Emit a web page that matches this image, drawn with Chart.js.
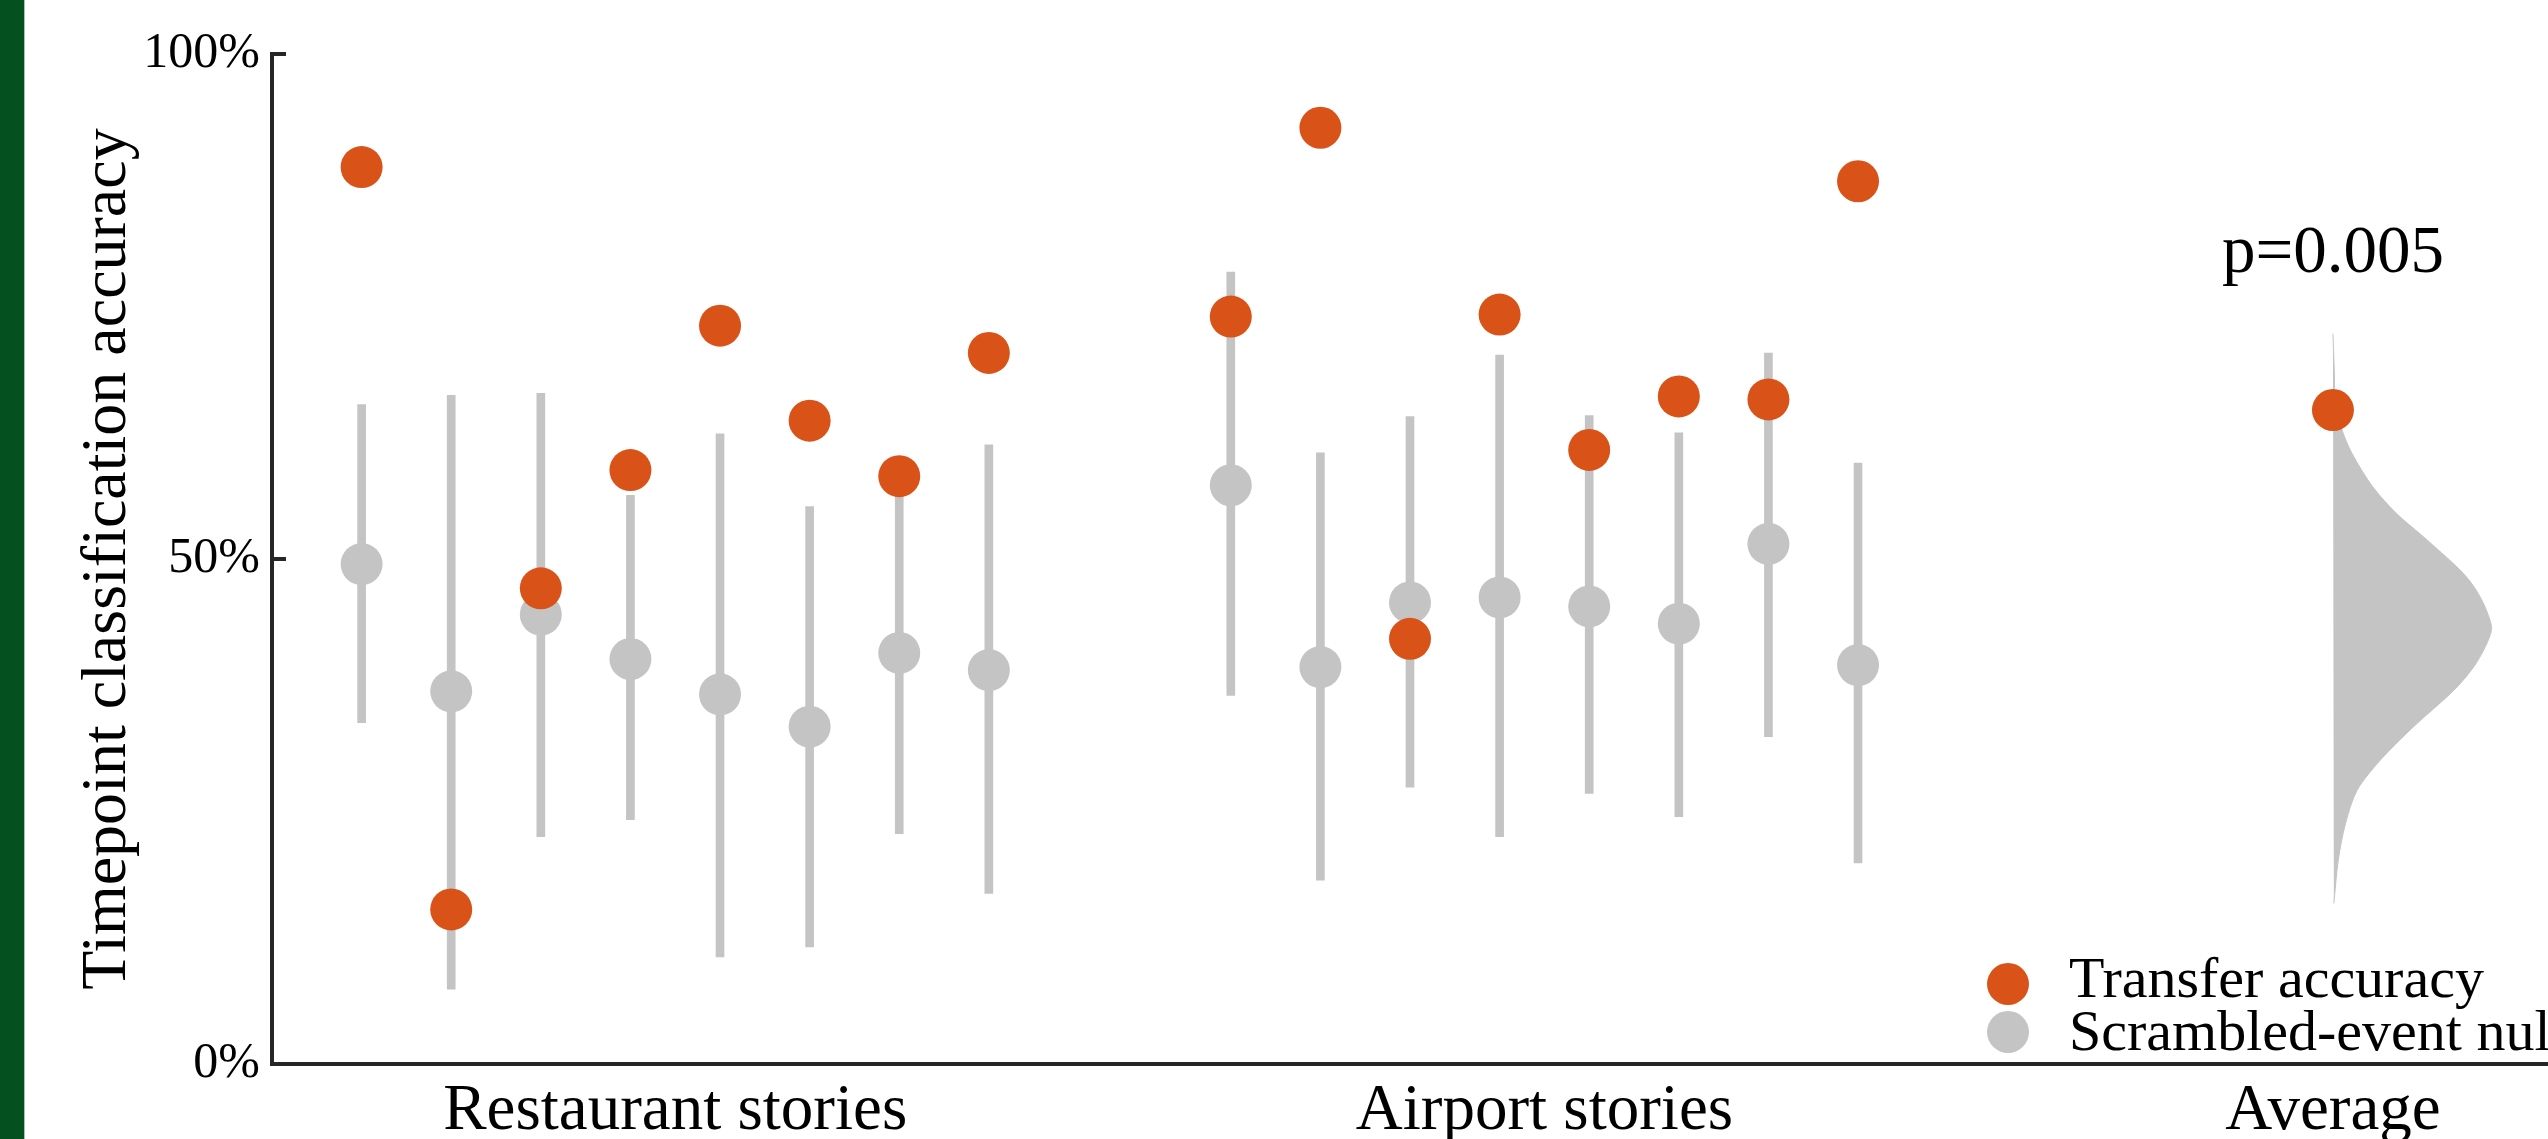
<!DOCTYPE html>
<html>
<head>
<meta charset="utf-8">
<title>Timepoint classification accuracy</title>
<script src="https://cdn.jsdelivr.net/npm/chart.js@4.4.1/dist/chart.umd.min.js"></script>
<style>
  html, body { margin: 0; padding: 0; background: #fff; overflow: hidden; }
  #wrap { position: relative; width: 2548px; height: 1139px; }
  #band { position: absolute; left: 0; top: 0; width: 24px; height: 1139px; background: #04501e; border-right: 1px solid #a9c2b1; }
  canvas { position: absolute; left: 0; top: 0; }
</style>
</head>
<body>
<div id="wrap">
  <canvas id="chart" width="2548" height="1139"></canvas>
  <div id="band"></div>
</div>
<script>
// x positions of the stories on the axis
const restaurantX = [1, 2, 3, 4, 5, 6, 7, 8];
const airportX = [10.7, 11.7, 12.7, 13.7, 14.7, 15.7, 16.7, 17.7];
const averageX = 23;

// accuracy values (%)
const restaurantTransfer = [88.8, 15.3, 47.1, 58.8, 73.1, 63.7, 58.2, 70.4];
const restaurantNullMean = [49.5, 36.9, 44.5, 40.1, 36.6, 33.4, 40.7, 39.0];
const restaurantNullLow  = [33.8, 7.4, 22.5, 24.2, 10.6, 11.6, 22.8, 16.9];
const restaurantNullHigh = [65.3, 66.2, 66.4, 56.3, 62.4, 55.2, 58.5, 61.3];

const airportTransfer = [74.0, 92.7, 42.1, 74.2, 60.8, 66.1, 65.8, 87.4];
const airportNullMean = [57.3, 39.3, 45.7, 46.2, 45.3, 43.6, 51.5, 39.5];
const airportNullLow  = [36.5, 18.2, 27.4, 22.5, 26.8, 24.5, 32.4, 19.9];
const airportNullHigh = [78.4, 60.5, 64.1, 70.2, 64.2, 62.5, 70.4, 59.5];

const averageTransfer = 64.75;

// half-violin of the averaged null distribution (level %, density in x units)
const nullDistLevels  = [72.3, 70.4, 68.7, 65.0, 62.8, 60.5, 57.2, 54.5, 52.2, 48.9, 47.3, 45.6, 44.0, 43.0, 41.3, 39.3, 37.0, 33.4, 30.1, 27.1, 23.8, 20.2, 15.9];
const nullDistDensity = [0, 0.008, 0.015, 0.03, 0.10, 0.21, 0.44, 0.71, 1.01, 1.42, 1.57, 1.68, 1.75, 1.77, 1.70, 1.57, 1.35, 0.90, 0.53, 0.27, 0.14, 0.06, 0.01];

const xTickPositions = [4.5, 14.2, 23];
const xTickLabels = ["Restaurant stories", "Airport stories", "Average"];
const yTickValues = [0, 50, 100];
const pValueText = "p=0.005";
const pValueLevel = 78.4;

const ORANGE = "#d95319";
const GREY = "#c4c4c4";
const AXIS = "#262626";
const FONT = "'Liberation Serif', 'DejaVu Serif', serif";

const allX = restaurantX.concat(airportX);
const allTransfer = restaurantTransfer.concat(airportTransfer);
const allMean = restaurantNullMean.concat(airportNullMean);
const allLow = restaurantNullLow.concat(airportNullLow);
const allHigh = restaurantNullHigh.concat(airportNullHigh);

const transferPoints = allX.map((x, i) => ({ x, y: allTransfer[i] }));
transferPoints.push({ x: averageX, y: averageTransfer });
const nullPoints = allX.map((x, i) => ({ x, y: allMean[i] }));
const nullRanges = allX.map((x, i) => ({ x, y: [allLow[i], allHigh[i]] }));
const violinPoints = nullDistLevels.map((lvl, i) => ({ x: averageX + nullDistDensity[i], y: lvl }));

// draws the inward y ticks, the p-value and the legend
const annotations = {
  id: "annotations",
  afterDraw(chart) {
    const { ctx, chartArea, scales } = chart;
    const x = scales.x, y = scales.y;
    ctx.save();

    ctx.strokeStyle = AXIS;
    ctx.lineWidth = 4;
    yTickValues.forEach(v => {
      const py = y.getPixelForValue(v);
      ctx.beginPath();
      ctx.moveTo(chartArea.left, py);
      ctx.lineTo(chartArea.left + 14, py);
      ctx.stroke();
    });

    ctx.fillStyle = "#000";
    ctx.font = "67px " + FONT;
    ctx.textAlign = "center";
    ctx.textBaseline = "alphabetic";
    ctx.fillText(pValueText, x.getPixelForValue(averageX), y.getPixelForValue(pValueLevel));

    const items = [chart.data.datasets[0], chart.data.datasets[1]];
    const markerX = chartArea.right - 540;
    const markerY = [chartArea.bottom - 80, chartArea.bottom - 32];
    const textY = [chartArea.bottom - 67, chartArea.bottom - 14];
    ctx.font = "58px " + FONT;
    ctx.textAlign = "left";
    items.forEach((ds, i) => {
      ctx.fillStyle = ds.backgroundColor;
      ctx.beginPath();
      ctx.arc(markerX, markerY[i], 21, 0, Math.PI * 2);
      ctx.fill();
      ctx.fillStyle = "#000";
      ctx.fillText(ds.label, markerX + 61, textY[i]);
    });
    ctx.restore();
  }
};

new Chart(document.getElementById("chart"), {
  type: "scatter",
  data: {
    datasets: [
      {
        label: "Transfer accuracy",
        type: "scatter",
        data: transferPoints,
        backgroundColor: ORANGE,
        borderWidth: 0,
        pointRadius: 21,
        order: 0
      },
      {
        label: "Scrambled-event null",
        type: "scatter",
        data: nullPoints,
        backgroundColor: GREY,
        borderWidth: 0,
        pointRadius: 21,
        order: 1
      },
      {
        label: "Null range",
        type: "bar",
        data: nullRanges,
        backgroundColor: GREY,
        barThickness: 8,
        borderWidth: 0,
        order: 2
      },
      {
        label: "Null distribution",
        type: "scatter",
        data: violinPoints,
        showLine: true,
        fill: "shape",
        tension: 0.3,
        backgroundColor: GREY,
        borderColor: GREY,
        borderWidth: 1,
        pointRadius: 0,
        order: 3
      }
    ]
  },
  options: {
    responsive: false,
    devicePixelRatio: 1,
    animation: false,
    layout: { autoPadding: false, padding: { top: 54, right: 0, bottom: 0, left: 0 } },
    plugins: {
      legend: { display: false },
      tooltip: { enabled: false }
    },
    scales: {
      x: {
        type: "linear",
        min: 0,
        max: 25.4,
        offset: false,
        grid: { display: false, drawTicks: false },
        border: { display: true, color: AXIS, width: 4 },
        afterBuildTicks: scale => {
          scale.ticks = xTickPositions.map(v => ({ value: v }));
        },
        afterFit: scale => { scale.height = 75; },
        ticks: {
          autoSkip: false,
          maxRotation: 0,
          padding: 9,
          color: "#000",
          font: { family: FONT, size: 65 },
          callback: (v, i) => xTickLabels[i]
        }
      },
      y: {
        type: "linear",
        min: 0,
        max: 100,
        grid: { display: false, drawTicks: false },
        border: { display: true, color: AXIS, width: 4 },
        afterBuildTicks: scale => {
          scale.ticks = yTickValues.map(v => ({ value: v }));
        },
        afterFit: scale => { scale.width = 272; },
        ticks: {
          padding: 12,
          color: "#000",
          font: { family: FONT, size: 50 },
          callback: v => v + "%"
        },
        title: {
          display: true,
          text: "Timepoint classification accuracy",
          color: "#000",
          font: { family: FONT, size: 64 },
          padding: { top: 70, bottom: 0 }
        }
      }
    }
  },
  plugins: [annotations]
});
</script>
</body>
</html>
